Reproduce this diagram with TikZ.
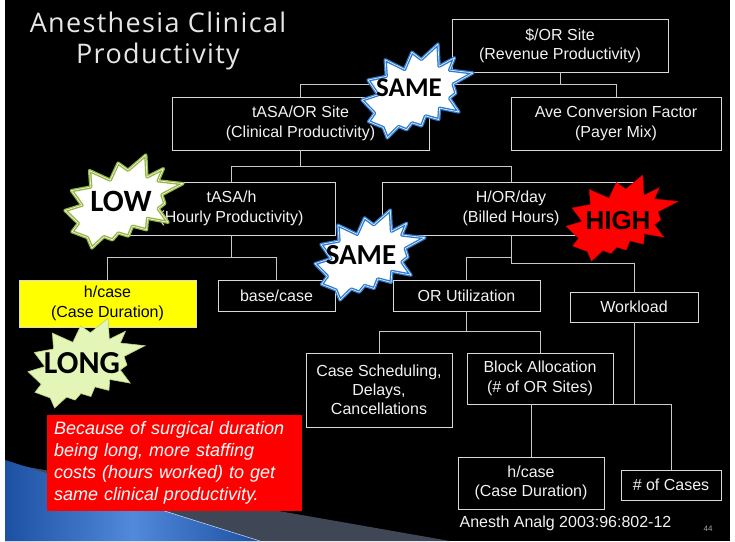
\documentclass[tikz,border=0pt]{standalone}
\usepackage{fontspec}
\setmainfont{Liberation Sans}
\newfontfamily\titlefont[LetterSpace=5]{Open Sans}
\newfontfamily\burstfont{Carlito}
\usetikzlibrary{calc}

\definecolor{boxline}{HTML}{D9D9D9}
\definecolor{connline}{HTML}{C8C8C8}
\definecolor{boxtext}{HTML}{F2F2F2}
\definecolor{hlyellow}{HTML}{FFFF00}
\definecolor{notered}{HTML}{FF0000}
\definecolor{burstblue}{HTML}{2C7BD0}
\definecolor{burstgreen}{HTML}{93B540}
\definecolor{longfill}{HTML}{E4F5B8}
\definecolor{longedge}{HTML}{B9CF7A}
\definecolor{highedge}{HTML}{D00000}
\definecolor{swgray}{HTML}{3F4656}
\definecolor{swblueA}{HTML}{1C50A2}
\definecolor{swblueB}{HTML}{5289DA}
\definecolor{titlegray}{HTML}{E6E6E6}
\definecolor{pagenum}{HTML}{A6A6A6}

% explosion outline, drawn into the box (#1,#2) with width #3 and height #4
\newcommand{\burst}[5]{%
  \begin{scope}[shift={(#1,#2)},xscale=#3/216,yscale=#4/216]
    \path[#5] (115.4,35.3) -- (147.90,0) -- (150.1,51.0) -- (180.07,31.72)
      -- (170.5,60.0) -- (216,66.45) -- (177.3,92.3) -- (182.70,112.90)
      -- (170.5,124.7) -- (188.77,156.32) -- (151.0,147.5) -- (149.42,173.70)
      -- (123.5,165.3) -- (116.12,188.42) -- (97.6,181.3) -- (87.00,197.12)
      -- (71.3,189.7) -- (49.17,216) -- (41.1,191.9) -- (12.85,178.25)
      -- (24.4,158.9) -- (0,128.77) -- (31.1,116.6) -- (11.72,82.70)
      -- (47.2,74.4) -- (45.02,36.25) -- (82.8,58.3) -- (97.22,18.87) -- cycle;
  \end{scope}}

\tikzset{
  box/.style={draw=boxline, fill=black, text=boxtext, line width=0.9pt,
    inner sep=0pt, align=center, font=\fontsize{16}{19.5}\selectfont},
  conn/.style={draw=connline, line width=0.9pt},
  sameburst/.style={fill=white, draw=burstblue, line width=1.3pt,
    double=white!85!burstblue, double distance=0.7pt, line join=round},
  lowburst/.style={fill=white, draw=burstgreen, line width=1.3pt,
    double=white!85!burstgreen, double distance=0.7pt, line join=round},
  longburst/.style={fill=longfill, draw=longedge, line width=0.6pt},
  highburst/.style={fill=notered, draw=highedge, line width=0.4pt},
  bursttext/.style={text=black, inner sep=0pt},
}

\begin{document}
\begin{tikzpicture}[x=1pt,y=-1pt]
\useasboundingbox (0,0) rectangle (735,541);

% slide background
\fill[white] (0,0) rectangle (735,541);
\fill[black] (5,0) rectangle (730,541);

% swoosh in the lower left corner
\fill[swgray] (5,463) -- (450,541) -- (5,541) -- cycle;
\shade[left color=swblueA, right color=swblueA, middle color=swblueB]
  (5,460) -- (260,541) -- (5,541) -- cycle;
\draw[white!70!swblueB, line width=0.5pt] (120,497) -- (260,541);

% title
\node[font=\titlefont\fontsize{27}{31}\selectfont, text=titlegray, anchor=base]
  (title1) at (158,32) {Anesthesia Clinical};
\node[font=\titlefont\fontsize{27}{31}\selectfont, text=titlegray, anchor=base]
  (title2) at (158,63) {Productivity};

% boxes
\node[box, minimum width=216, minimum height=53] (rev) at (560,45.5)
  {\$/OR Site\\(Revenue Productivity)};
\node[box, minimum width=257, minimum height=53] (clin) at (300.5,123.5)
  {tASA/OR Site\\(Clinical Productivity)};
\node[box, minimum width=210, minimum height=53] (ave) at (616,123.5)
  {Ave Conversion Factor\\(Payer Mix)};
\node[box, minimum width=207, minimum height=53] (tasah) at (231.5,208.5)
  {tASA/h\\(Hourly Productivity)};
\node[box, minimum width=258, minimum height=53] (hord) at (511,208.5)
  {H/OR/day\\(Billed Hours)};
\node[box, fill=hlyellow, text=black, minimum width=177, minimum height=47]
  (hcase) at (107.5,303.5) {h/case\\(Case Duration)};
\node[box, minimum width=117, minimum height=31] (base) at (276.5,295.5)
  {base/case};
\node[box, minimum width=147, minimum height=31] (oru) at (466.5,295.5)
  {OR Utilization};
\node[box, minimum width=128, minimum height=30] (work) at (634,307)
  {Workload};
\node[box, minimum width=146, minimum height=74, font=\fontsize{16}{19}\selectfont]
  (sched) at (379,390) {Case Scheduling,\\Delays,\\Cancellations};
\node[box, minimum width=146, minimum height=51] (block) at (540,378.5)
  {Block Allocation\\(\# of OR Sites)};
\node[box, minimum width=146, minimum height=52] (hcase2) at (531,483)
  {h/case\\(Case Duration)};
\node[box, minimum width=100, minimum height=30] (cases) at (671,485)
  {\# of Cases};

% connectors
\draw[conn] (rev.south) -- ++(0,12) -| (clin.north);
\draw[conn] (rev.south) -- ++(0,12) -| (ave.north);
\draw[conn] (clin.south) -- ++(0,16) -| (tasah.north);
\draw[conn] (clin.south) -- ++(0,16) -| (hord.north);
\draw[conn] (tasah.south) -- ++(0,22) -| (hcase.north);
\draw[conn] (tasah.south) -- ++(0,22) -| (base.north);
\draw[conn] (hord.south) -- ++(0,22) -| (oru.north);
\draw[conn] (hord.south) -- ++(0,28) -| (work.north);
\draw[conn] (oru.south) -- ++(0,20) -| (sched.north);
\draw[conn] (oru.south) -- ++(0,20) -| (block.north);
\draw[conn] (hcase2.north) -- (hcase2.north |- block.south);
\draw[conn] (work.south) -- (work.south |- block.south);
\draw[conn] (block.south east) -| (cases.north);

% bursts
\burst{362}{44}{111}{94}{sameburst}
\node[bursttext, font=\burstfont\bfseries\fontsize{27}{27}\selectfont]
  (same1) at (409,88) {SAME};
\burst{315}{210}{110}{90}{sameburst}
\node[bursttext, font=\burstfont\bfseries\fontsize{29}{29}\selectfont]
  (same2) at (361,255) {SAME};
\burst{65}{155}{118}{93}{lowburst}
\node[bursttext, font=\burstfont\bfseries\fontsize{31}{31}\selectfont]
  (low) at (121,201) {LOW};
\burst{566}{175}{112}{86}{highburst}
\node[bursttext, font=\bfseries\fontsize{26}{26}\selectfont]
  (high) at (618,221) {HIGH};
\burst{28}{318}{117}{90}{longburst}
\node[bursttext, font=\burstfont\bfseries\fontsize{32}{32}\selectfont]
  (long) at (82,363) {LONG};

% note
\node[fill=notered, text=white, minimum width=255, minimum height=96,
  text width=241, inner sep=7, align=left,
  font=\itshape\fontsize{18}{22}\selectfont] (note) at (174.5,463)
  {Because of surgical duration\\being long, more staffing\\costs (hours worked) to get\\same clinical productivity.};

% footer
\node[text=boxtext, font=\fontsize{16}{19}\selectfont] (ref) at (565.5,523)
  {Anesth Analg 2003:96:802-12};
\node[text=pagenum, font=\fontsize{8}{9}\selectfont] (page) at (708,529) {44};
\end{tikzpicture}
\end{document}
